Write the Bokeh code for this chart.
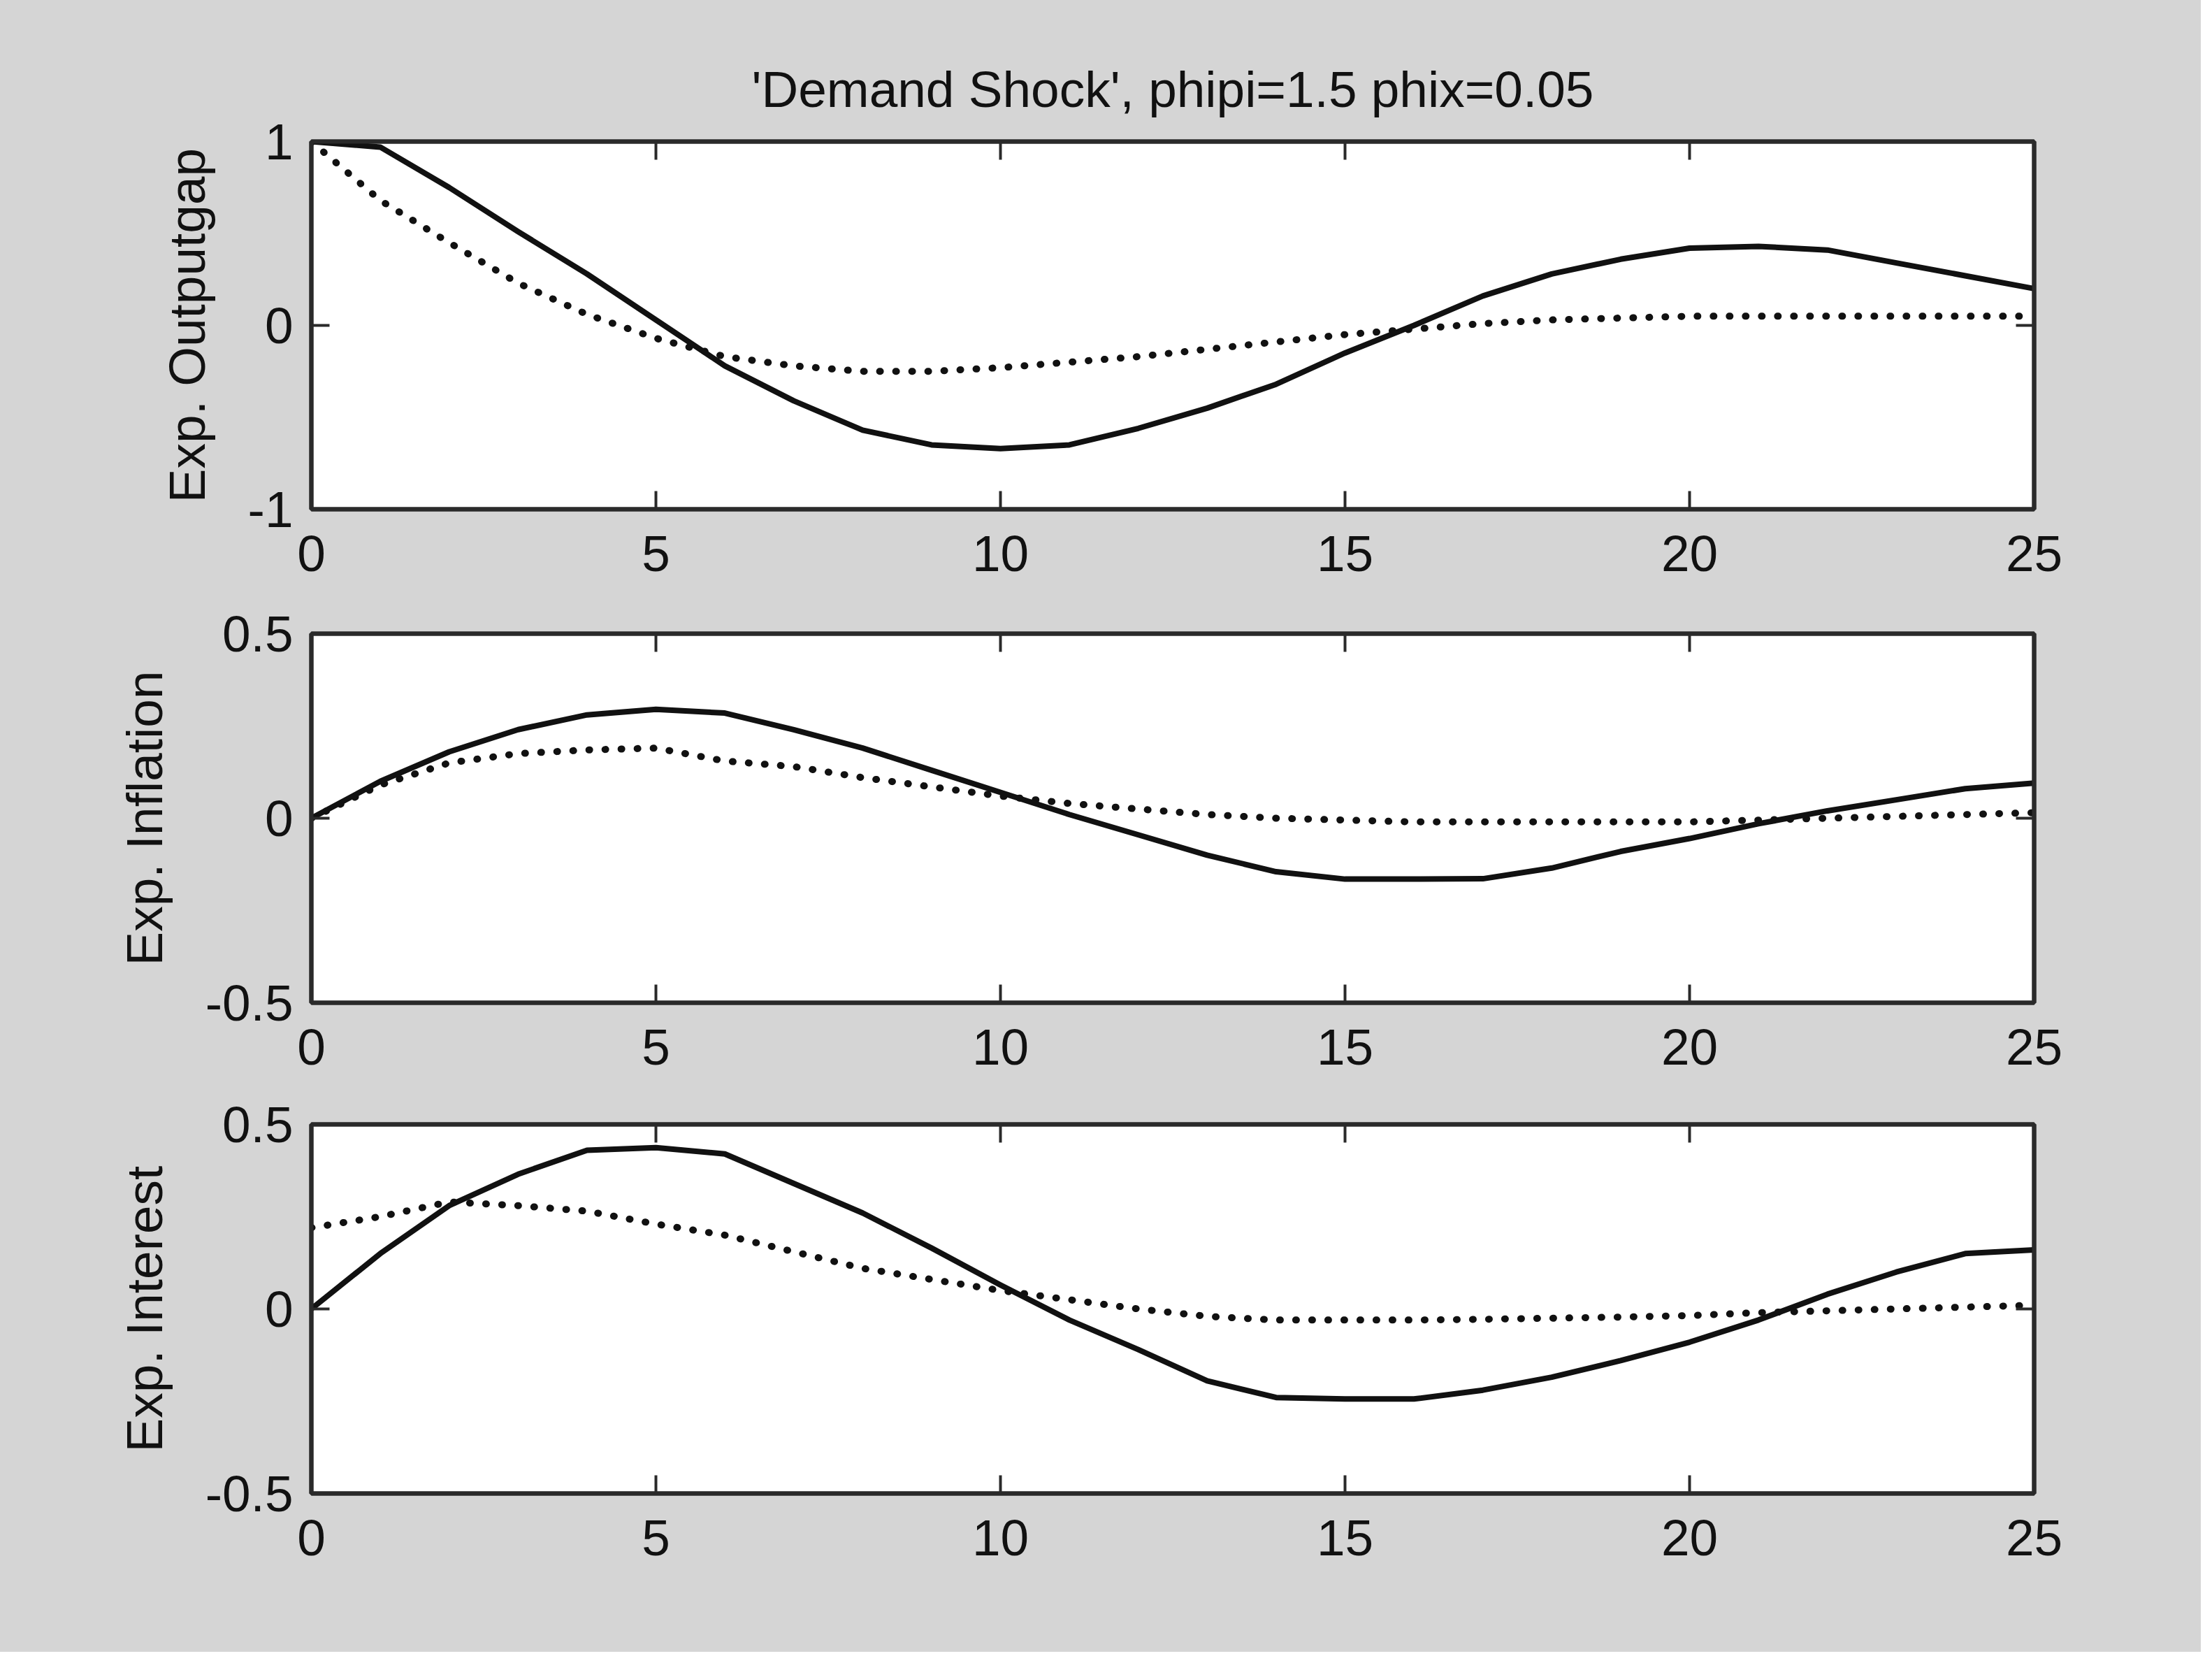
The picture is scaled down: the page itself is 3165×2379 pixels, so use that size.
from bokeh.plotting import figure
from bokeh.models import Range1d, FixedTicker, LinearAxis
from bokeh.layouts import column
from bokeh.embed import file_html
from bokeh.resources import INLINE

# ---------------- data ----------------
periods = list(range(26))

outputgap_solid = [1.0, 0.97, 0.75, 0.51, 0.28, 0.03, -0.22, -0.41, -0.57, -0.65,
                   -0.67, -0.65, -0.56, -0.45, -0.32, -0.15, 0.0, 0.16, 0.28, 0.36,
                   0.42, 0.43, 0.41, 0.34, 0.27, 0.20]
outputgap_dotted = [1.0, 0.68, 0.45, 0.23, 0.06, -0.07, -0.17, -0.22, -0.25, -0.25,
                    -0.23, -0.20, -0.17, -0.13, -0.09, -0.05, -0.02, 0.01, 0.03, 0.04,
                    0.05, 0.05, 0.05, 0.05, 0.05, 0.05]

inflation_solid = [0.0, 0.10, 0.18, 0.24, 0.28, 0.295, 0.285, 0.24, 0.19, 0.13,
                   0.07, 0.01, -0.045, -0.10, -0.145, -0.165, -0.165, -0.164, -0.135, -0.09,
                   -0.055, -0.015, 0.02, 0.05, 0.08, 0.095]
inflation_dotted = [0.0, 0.09, 0.15, 0.175, 0.185, 0.19, 0.155, 0.14, 0.11, 0.085,
                    0.06, 0.04, 0.025, 0.01, 0.0, -0.005, -0.01, -0.01, -0.01, -0.01,
                    -0.01, -0.005, 0.0, 0.005, 0.01, 0.015]

interest_solid = [0.0, 0.15, 0.28, 0.365, 0.43, 0.437, 0.42, 0.34, 0.26, 0.165,
                  0.065, -0.03, -0.11, -0.195, -0.24, -0.244, -0.244, -0.22, -0.185, -0.14,
                  -0.09, -0.03, 0.04, 0.10, 0.15, 0.16]
interest_dotted = [0.22, 0.25, 0.29, 0.28, 0.265, 0.23, 0.20, 0.155, 0.11, 0.08,
                   0.05, 0.025, 0.0, -0.02, -0.03, -0.03, -0.03, -0.028, -0.025, -0.022,
                   -0.018, -0.01, -0.005, 0.0, 0.005, 0.01]

title_text = "'Demand Shock', phipi=1.5 phix=0.05"
y_labels = ["Exp. Outputgap", "Exp. Inflation", "Exp. Interest"]
x_ticks = [0, 5, 10, 15, 20, 25]
y_ticks = [[-1, 0, 1], [-0.5, 0, 0.5], [-0.5, 0, 0.5]]
y_tick_text = [["-1", "0", "1"], ["-0.5", "0", "0.5"], ["-0.5", "0", "0.5"]]
y_limits = [(-1, 1), (-0.5, 0.5), (-0.5, 0.5)]
solid_series = [outputgap_solid, inflation_solid, interest_solid]
dotted_series = [outputgap_dotted, inflation_dotted, interest_dotted]

# ---------------- styling ----------------
BG = "#d5d5d5"
INK = "#111111"
FRAME = "#2a2a2a"
FONT = "Liberation Sans"
FS = "73px"
W = 3149
heights = [858, 706, 799]
tops = [202, 48, 44]
bottoms = [130, 130, 227]


def mirror_axis(ticks):
    return LinearAxis(ticker=FixedTicker(ticks=ticks),
                      major_label_text_font_size="1px", major_label_text_color=None,
                      major_label_standoff=0, major_tick_in=26, major_tick_out=0,
                      major_tick_line_width=4, major_tick_line_color=FRAME,
                      minor_tick_line_color=None, axis_line_width=6, axis_line_color=FRAME)


def make_panel(i):
    p = figure(width=W, height=heights[i],
               x_range=Range1d(0, 25), y_range=Range1d(*y_limits[i]),
               output_backend="svg", toolbar_location=None,
               min_border_left=445, min_border_right=239,
               min_border_top=tops[i], min_border_bottom=bottoms[i],
               background_fill_color="white", border_fill_color=BG,
               outline_line_color=FRAME, outline_line_width=6)
    p.xgrid.grid_line_color = None
    p.ygrid.grid_line_color = None

    for ax in p.xaxis:
        ax.ticker = FixedTicker(ticks=x_ticks)
        ax.major_label_standoff = 38
    for ax in p.yaxis:
        ax.ticker = FixedTicker(ticks=y_ticks[i])
        ax.major_label_overrides = {v: t for v, t in zip(y_ticks[i], y_tick_text[i])}
        ax.major_label_standoff = 26
        ax.axis_label = y_labels[i]
        ax.axis_label_standoff = 44
        ax.axis_label_text_font = FONT
        ax.axis_label_text_font_size = FS
        ax.axis_label_text_font_style = "normal"
        ax.axis_label_text_color = INK

    for ax in list(p.xaxis) + list(p.yaxis):
        ax.major_label_text_font = FONT
        ax.major_label_text_font_size = FS
        ax.major_label_text_color = INK
        ax.major_tick_in = 26
        ax.major_tick_out = 0
        ax.major_tick_line_width = 4
        ax.major_tick_line_color = FRAME
        ax.minor_tick_line_color = None
        ax.axis_line_width = 6
        ax.axis_line_color = FRAME

    # mirrored tick marks on top and right (no labels)
    p.add_layout(mirror_axis(x_ticks), "above")
    p.add_layout(mirror_axis(y_ticks[i]), "right")

    p.line(periods, dotted_series[i], line_color=INK, line_width=10,
           line_dash="1 22", line_cap="round")
    p.line(periods, solid_series[i], line_color=INK, line_width=8, line_join="round")
    return p


panels = [make_panel(i) for i in range(3)]
t = panels[0].title
t.text = title_text
t.text_font = FONT
t.text_font_size = FS
t.text_font_style = "normal"
t.text_color = INK
t.align = "center"
t.standoff = 70

layout = column(*panels, spacing=0, styles={"background-color": BG})
open("out.html", "w").write(file_html(layout, INLINE))
